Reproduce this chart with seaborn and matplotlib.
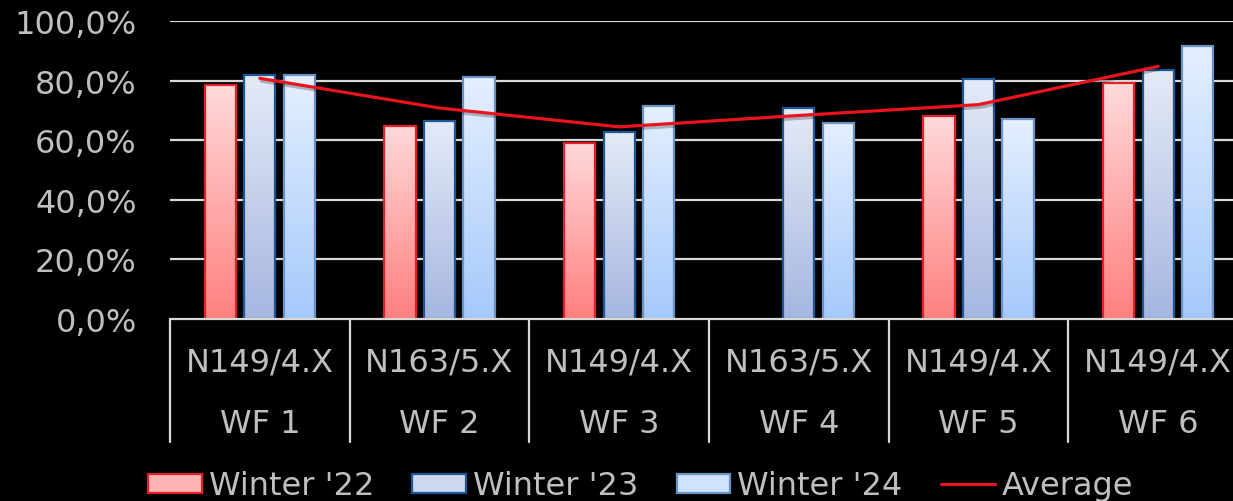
import matplotlib.pyplot as plt
import matplotlib.patches as mpatches
import matplotlib.lines as mlines
import matplotlib.patheffects as pe
from matplotlib.colors import LinearSegmentedColormap
import numpy as np
import pandas as pd
import seaborn as sns

# Data
wind_farms = ['WF 1', 'WF 2', 'WF 3', 'WF 4', 'WF 5', 'WF 6']
turbines = ['N149/4.X', 'N163/5.X', 'N149/4.X', 'N163/5.X', 'N149/4.X', 'N149/4.X']
seasons = ["Winter '22", "Winter '23", "Winter '24"]
winter_22 = [78.5, 64.8, 59.1, np.nan, 68.2, 79.1]
winter_23 = [81.9, 66.4, 62.8, 70.8, 80.5, 83.7]
winter_24 = [81.9, 81.2, 71.5, 65.8, 67.1, 91.5]
y_ticks = [0, 20, 40, 60, 80, 100]

# Styles
text_col = '#bfbfbf'
grad_top = ['#ffd9d9', '#e4eaf7', '#e4efff']
grad_bot = ['#ff8080', '#a6b6e0', '#a6c9fb']
edge_cols = ['#e41f2a', '#1c5796', '#6b92c4']
line_col = '#e8141e'
fs = 23

df = pd.DataFrame({
    'wf': np.repeat(wind_farms, 3),
    'season': seasons * len(wind_farms),
    'value': np.column_stack([winter_22, winter_23, winter_24]).ravel(),
})
avg = np.nanmean(np.column_stack([winter_22, winter_23, winter_24]), axis=1)

sns.set_style('dark')
plt.rcParams['font.family'] = ['DejaVu Sans']

fig = plt.figure(figsize=(12.33, 5.02), dpi=100, facecolor='black')
ax = fig.add_axes([170 / 1233, 1 - 320 / 502, 1078 / 1233, 298 / 502])
ax.set_facecolor('black')

sns.barplot(data=df, x='wf', y='value', hue='season', order=wind_farms,
            hue_order=seasons, width=0.66, gap=0.21, errorbar=None,
            palette=grad_bot, legend=False, ax=ax)

# gradient fill inside each bar
for k, cont in enumerate(ax.containers):
    cmap = LinearSegmentedColormap.from_list('g%d' % k, [grad_bot[k], grad_top[k]])
    for p in cont:
        h = p.get_height()
        if not np.isfinite(h) or h <= 0:
            continue
        x0, w = p.get_x(), p.get_width()
        p.set_facecolor('none')
        p.set_edgecolor(edge_cols[k])
        p.set_linewidth(1.6)
        p.set_zorder(4)
        grad = np.linspace(0, 1, 100).reshape(-1, 1)
        im = ax.imshow(grad, cmap=cmap, origin='lower', aspect='auto',
                       extent=[x0, x0 + w, 0, h], zorder=3)
        im.set_clip_path(p)

# average line
sns.lineplot(x=np.arange(len(wind_farms)), y=avg, color=line_col, linewidth=2.3,
             ax=ax, zorder=6,
             path_effects=[pe.SimpleLineShadow(offset=(1, -2), alpha=0.25), pe.Normal()])

ax.set_xlim(-0.5, len(wind_farms) - 0.5)
ax.set_ylim(0, 100)
ax.set_yticks(y_ticks)
ax.set_yticklabels([('%.1f%%' % t).replace('.', ',') for t in y_ticks])
ax.tick_params(axis='y', length=0, pad=24, labelsize=fs, labelcolor=text_col)
ax.set_xticks([])
ax.set_xlabel('')
ax.set_ylabel('')
for s in ax.spines.values():
    s.set_visible(False)

# gridlines (0 line is the category box line)
for t in y_ticks[1:]:
    ax.axhline(t, color='#d9d9d9', linewidth=1.6, zorder=1)

# two level category axis
trans = ax.get_xaxis_transform()
ax.plot([-0.5, len(wind_farms) - 0.5], [0, 0], color='#d9d9d9', linewidth=1.6,
        transform=trans, clip_on=False, zorder=5)
for i in range(len(wind_farms) + 1):
    ax.plot([i - 0.5, i - 0.5], [0, -0.413], color='#d9d9d9', linewidth=1.6,
            transform=trans, clip_on=False)
for i, (t, w) in enumerate(zip(turbines, wind_farms)):
    ax.text(i, -0.144, t, transform=trans, ha='center', va='center',
            fontsize=fs, color=text_col, clip_on=False)
    ax.text(i, -0.352, w, transform=trans, ha='center', va='center',
            fontsize=fs, color=text_col, clip_on=False)

# legend
handles = [mpatches.Patch(facecolor=c, edgecolor=e, linewidth=1.6, label=s)
           for c, e, s in zip(['#ffb3b3', '#cdd7ef', '#cfe2ff'], edge_cols, seasons)]
handles.append(mlines.Line2D([], [], color=line_col, linewidth=2.3, label='Average'))
leg = fig.legend(handles=handles, loc='center', bbox_to_anchor=(0.5195, 0.03),
                 ncol=4, frameon=False, fontsize=fs, handlelength=1.68,
                 handleheight=0.55, handletextpad=0.22, columnspacing=1.2)
for t in leg.get_texts():
    t.set_color(text_col)

fig.savefig('out.png', dpi=100, facecolor='black')
